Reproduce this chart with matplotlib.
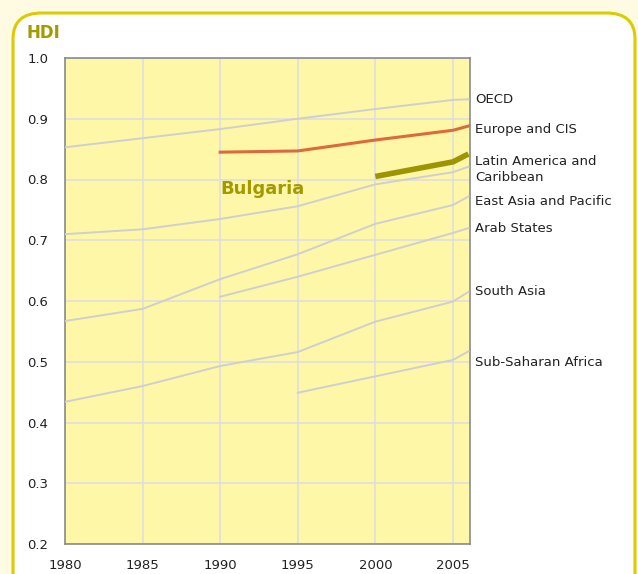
import matplotlib
matplotlib.use("Agg")
import matplotlib.pyplot as plt
from matplotlib.patches import FancyBboxPatch

# HDI trends
years_all = [1980, 1985, 1990, 1995, 2000, 2005, 2006]
oecd = [0.853, 0.868, 0.883, 0.900, 0.916, 0.931, 0.932]
latin = [0.710, 0.718, 0.735, 0.756, 0.792, 0.812, 0.821]
east_asia = [0.567, 0.587, 0.636, 0.677, 0.727, 0.758, 0.772]
south_asia = [0.434, 0.460, 0.493, 0.516, 0.566, 0.599, 0.615]

years_90 = [1990, 1995, 2000, 2005, 2006]
europe_cis = [0.845, 0.847, 0.865, 0.881, 0.888]
arab = [0.607, 0.640, 0.676, 0.712, 0.720]

years_95 = [1995, 2000, 2005, 2006]
ssa = [0.449, 0.476, 0.503, 0.517]

years_00 = [2000, 2005, 2006]
bulgaria = [0.805, 0.829, 0.842]

label_names = ["OECD", "Europe and CIS", "Latin America and\nCaribbean",
               "East Asia and Pacific", "Arab States", "South Asia",
               "Sub-Saharan Africa"]
label_pos = [0.931, 0.883, 0.816, 0.763, 0.719, 0.615, 0.498]

x_ticks = [1980, 1985, 1990, 1995, 2000, 2005]
y_ticks = [0.2, 0.3, 0.4, 0.5, 0.6, 0.7, 0.8, 0.9, 1.0]

OLIVE = "#a39a00"
GREY_LINE = "#cfcfcf"

fig = plt.figure(figsize=(6.38, 5.74), dpi=100)
fig.patch.set_facecolor("#fffbe3")

# rounded frame round the whole chart
frame = FancyBboxPatch((13 / 638, -0.05), 622 / 638, 1.05 - 13 / 574,
                       boxstyle="round,pad=0,rounding_size=0.045",
                       transform=fig.transFigure, facecolor="white",
                       edgecolor="#dccb00", linewidth=2.2, zorder=0)
fig.patches.append(frame)

ax = fig.add_axes([65 / 638, 30 / 574, 405 / 638, 486 / 574])
ax.set_zorder(2)
ax.set_facecolor("#fff7a8")

for ys, xs in [(oecd, years_all), (latin, years_all), (east_asia, years_all),
               (south_asia, years_all), (arab, years_90), (ssa, years_95)]:
    ax.plot(xs, ys, color=GREY_LINE, lw=1.4, zorder=3)

ax.plot(years_90, europe_cis, color="#dc6a3c", lw=2.2, zorder=4)
ax.plot(years_00, bulgaria, color="#9c9500", lw=4, zorder=5,
        solid_capstyle="butt")

ax.text(1990, 0.784, "Bulgaria", color=OLIVE, fontsize=13,
        fontweight="bold", va="center", ha="left")

ax.set_xlim(1980, 2006.1)
ax.set_ylim(0.2, 1.0)
ax.set_xticks(x_ticks)
ax.set_yticks(y_ticks)
ax.set_yticklabels(["%.1f" % v for v in y_ticks])
ax.grid(True, color="#dedede", lw=1.2, zorder=1)
ax.set_axisbelow(True)
ax.tick_params(length=0, labelsize=9.5, colors="#222222", pad=12)
ax.tick_params(axis="x", pad=11)
for s in ax.spines.values():
    s.set_color("#8a8a8a")
    s.set_linewidth(1.2)

for name, yv in zip(label_names, label_pos):
    ax.text(1.012, (yv - 0.2) / 0.8, name, transform=ax.transAxes,
            fontsize=9.5, color="#222222", va="center", ha="left",
            linespacing=1.3)

fig.text(27 / 638, 1 - 33 / 574, "HDI", color=OLIVE, fontsize=12,
         fontweight="bold", va="center", ha="left", zorder=3)

fig.savefig("out.png", dpi=100, facecolor=fig.get_facecolor())
